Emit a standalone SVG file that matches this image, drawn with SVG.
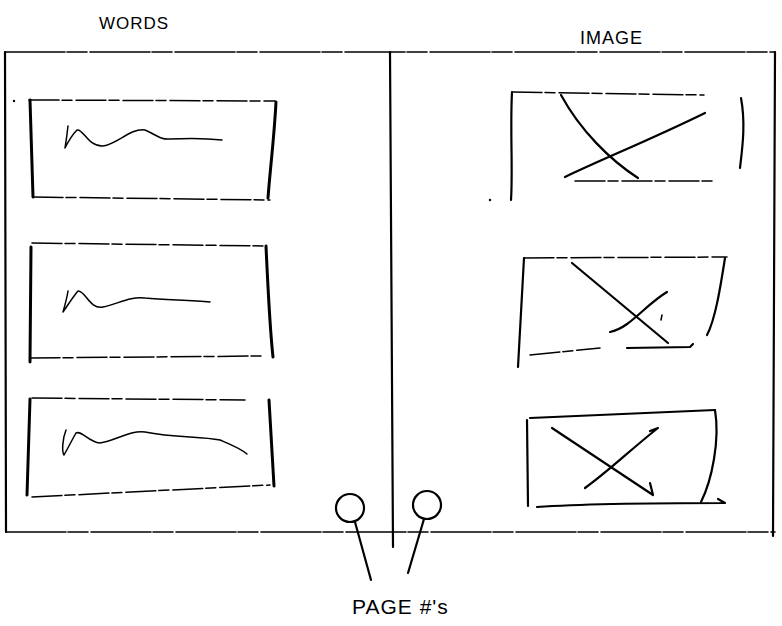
<svg xmlns="http://www.w3.org/2000/svg" width="782" height="626" viewBox="0 0 782 626">
<style>
.ln{fill:none;stroke:#000;stroke-width:2.2;stroke-linecap:round;stroke-linejoin:round}
.bk{fill:none;stroke:#000;stroke-width:3;stroke-linecap:round}
.th{fill:none;stroke:#000;stroke-width:1.5;stroke-linecap:round;stroke-linejoin:round}
.fa{fill:none;stroke:#000;stroke-width:1.5;stroke-dasharray:30 3 10 4;stroke-linecap:round}
.fr{fill:none;stroke:#000;stroke-width:1.6;stroke-dasharray:60 2 20 3;stroke-linecap:round}
.lbl{font-family:"Liberation Sans",Arial,sans-serif;fill:#000;letter-spacing:1px}
</style>
<rect width="782" height="626" fill="#fff"/>
<g id="titles">
<text class="lbl" x="99" y="29" font-size="17" letter-spacing="0">WORDS</text>
<text class="lbl" x="580" y="44" font-size="18">IMAGE</text>
</g>
<g id="frame">
<path class="fr" d="M5 52 L775 52"/>
<path class="ln" d="M5 52 L6 532"/>
<path class="fr" d="M6 532 L775 532"/>
<path class="ln" d="M775 52 L773 536"/>
<path class="ln" d="M390 52 L393 547"/>
</g>
<g id="words-box-1">
<path class="bk" d="M30 100 L33 197"/>
<path class="fa" d="M29 100 L275 101"/>
<path class="bk" d="M276 102 C274 140 270 170 268 198"/>
<path class="fa" d="M33 197 L270 200"/>
<circle cx="14" cy="101" r="1.2"/>
<path class="th" d="M68 126 C67 135 66 142 65 148 C68 142 72 135 77 130 C83 128 88 147 103 146 C118 144 130 128 145 130 C155 134 160 140 170 139 C190 138 205 138 222 140"/>
</g>
<g id="words-box-2">
<path class="bk" d="M31 247 L30 362"/>
<path class="fa" d="M32 243 L265 246"/>
<path class="bk" d="M266 246 C268 290 270 330 273 357"/>
<path class="fa" d="M30 358 L262 356"/>
<path class="th" d="M68 291 C67 298 65 305 63 312 C68 305 72 298 78 291 C85 290 90 310 103 307 C118 304 130 296 145 298 C165 300 190 300 210 302"/>
</g>
<g id="words-box-3">
<path class="bk" d="M30 399 L27 495"/>
<path class="fa" d="M32 398 L245 400"/>
<path class="bk" d="M269 400 L274 486"/>
<path class="fa" d="M32 497 L270 485"/>
<path class="th" d="M66 430 C62 440 62 452 64 455 C68 448 72 440 76 433 C82 430 88 442 100 443 C115 441 130 430 145 432 C175 438 200 436 220 440 C232 445 240 448 247 454"/>
</g>
<g id="image-box-1">
<path class="ln" d="M512 92 C510 130 513 170 511 200"/>
<path class="fa" d="M512 92 L704 95"/>
<path class="ln" d="M741 98 C746 125 742 150 740 168"/>
<path class="fa" d="M575 181 L712 181"/>
<circle cx="490" cy="200" r="1.2"/>
<path class="ln" d="M561 95 C580 130 610 160 638 178"/>
<path class="ln" d="M565 177 C600 160 650 140 705 113"/>
</g>
<g id="image-box-2">
<path class="ln" d="M524 258 L518 367"/>
<path class="fa" d="M524 258 L727 257"/>
<path class="ln" d="M725 258 C720 290 715 320 707 335"/>
<path class="fa" d="M530 355 L600 348"/>
<path class="ln" d="M627 348 L690 347 L693 344"/>
<path class="ln" d="M572 263 L668 343"/>
<path class="ln" d="M610 332 C630 328 645 305 667 292"/>
<path class="th" d="M662 315 L661 320"/>
</g>
<g id="image-box-3">
<path class="ln" d="M527 420 L528 506"/>
<path class="ln" d="M530 418 L715 410"/>
<path class="ln" d="M715 410 C720 440 712 480 701 502"/>
<path class="ln" d="M537 507 C580 504 650 503 725 503 L718 499"/>
<path class="ln" d="M552 428 L653 495 L650 483"/>
<path class="ln" d="M585 488 C610 470 630 450 658 428 L650 431"/>
</g>
<g id="page-number-left">
<circle class="ln" cx="350" cy="508" r="14"/>
</g>
<g id="page-number-right">
<circle class="ln" cx="427" cy="505" r="14"/>
</g>
<g id="connectors">
<path class="ln" d="M355 522 L371 580"/>
<path class="ln" d="M424 519 L408 573"/>
</g>
<g id="page-label">
<text class="lbl" x="352" y="614" font-size="21" letter-spacing="2">PAGE #'s</text>
</g>
</svg>
